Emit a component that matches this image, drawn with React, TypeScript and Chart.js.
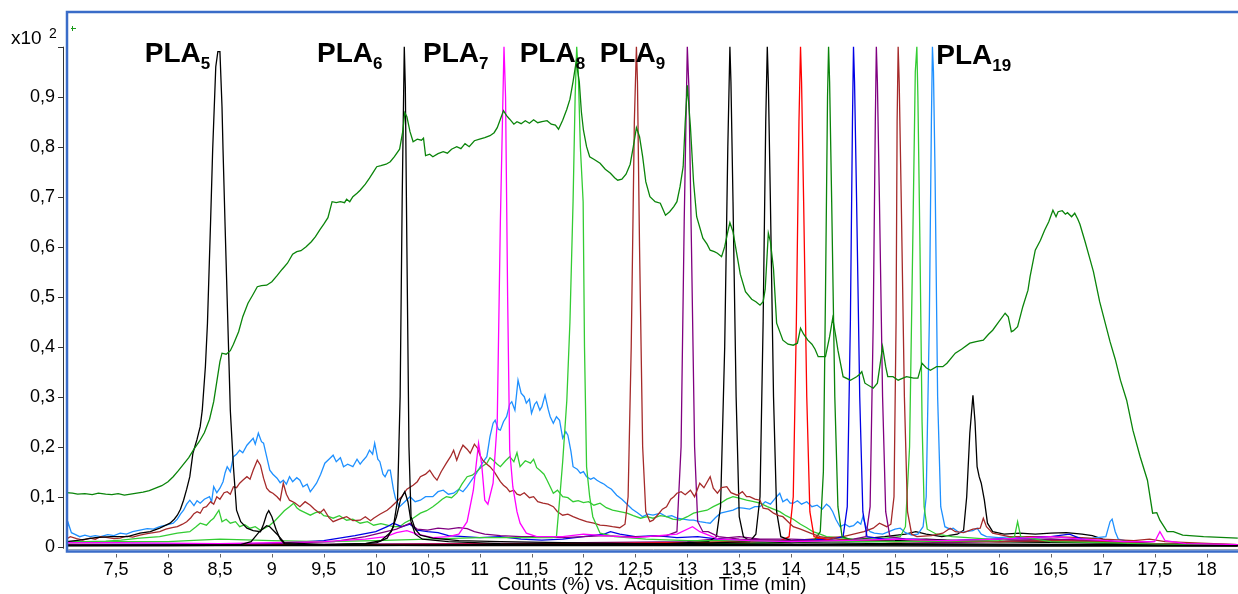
import React, { useEffect, useRef } from "react";
import { Chart, registerables } from "chart.js";

Chart.register(...registerables);

type Pt = [number, number];

const FONT = '"Liberation Sans", Arial, Helvetica, sans-serif';

// axis ticks
const xTicks = [7.5, 8, 8.5, 9, 9.5, 10, 10.5, 11, 11.5, 12, 12.5, 13, 13.5, 14, 14.5, 15, 15.5, 16, 16.5, 17, 17.5, 18];
const xTickLabels = ["7,5", "8", "8,5", "9", "9,5", "10", "10,5", "11", "11,5", "12", "12,5", "13", "13,5", "14", "14,5", "15", "15,5", "16", "16,5", "17", "17,5", "18"];
const yTicks = [0, 0.1, 0.2, 0.3, 0.4, 0.5, 0.6, 0.7, 0.8, 0.9, 1.0];
const yTickLabels = ["0", "0,1", "0,2", "0,3", "0,4", "0,5", "0,6", "0,7", "0,8", "0,9", ""];
const xRange = [7.018, 18.302];
const yRange = [-0.0086, 1.0694];

// peak labels
const labelTimes = [7.776, 9.435, 10.455, 11.386, 12.156, 15.397];
const labelLevels = [0.969, 0.969, 0.969, 0.969, 0.969, 0.966];
const labelSubs = ["5", "6", "7", "8", "9", "19"];

// dark green total trace
const ticTrace: Pt[] = [[7.02,0.108],[7.08,0.107],[7.13,0.105],[7.2,0.106],[7.27,0.104],[7.33,0.107],[7.4,0.105],[7.46,0.104],[7.52,0.106],[7.58,0.103],[7.64,0.105],[7.7,0.107],[7.76,0.109],[7.82,0.112],[7.88,0.117],[7.94,0.122],[8.0,0.13],[8.05,0.14],[8.1,0.152],[8.15,0.165],[8.2,0.178],[8.25,0.195],[8.3,0.21],[8.35,0.228],[8.4,0.255],[8.44,0.29],[8.47,0.33],[8.5,0.37],[8.52,0.387],[8.56,0.385],[8.6,0.392],[8.63,0.405],[8.68,0.43],[8.72,0.46],[8.77,0.487],[8.82,0.505],[8.86,0.52],[8.9,0.522],[8.95,0.523],[9.0,0.53],[9.05,0.542],[9.1,0.555],[9.15,0.567],[9.2,0.585],[9.24,0.59],[9.28,0.592],[9.33,0.6],[9.38,0.61],[9.42,0.62],[9.46,0.633],[9.5,0.645],[9.54,0.658],[9.58,0.69],[9.62,0.688],[9.66,0.69],[9.7,0.688],[9.72,0.695],[9.75,0.69],[9.78,0.7],[9.82,0.707],[9.85,0.713],[9.9,0.725],[9.94,0.737],[9.98,0.75],[10.01,0.76],[10.05,0.762],[10.1,0.765],[10.14,0.77],[10.18,0.78],[10.23,0.795],[10.26,0.83],[10.28,0.868],[10.3,0.86],[10.33,0.83],[10.36,0.81],[10.4,0.815],[10.44,0.813],[10.46,0.817],[10.48,0.782],[10.52,0.785],[10.55,0.78],[10.6,0.786],[10.65,0.79],[10.69,0.787],[10.73,0.795],[10.78,0.8],[10.82,0.796],[10.86,0.806],[10.9,0.8],[10.95,0.812],[11.0,0.815],[11.05,0.818],[11.1,0.822],[11.14,0.828],[11.17,0.838],[11.2,0.855],[11.23,0.872],[11.26,0.862],[11.29,0.855],[11.33,0.845],[11.36,0.85],[11.4,0.846],[11.44,0.852],[11.48,0.847],[11.52,0.854],[11.56,0.848],[11.6,0.85],[11.65,0.852],[11.69,0.845],[11.73,0.843],[11.76,0.835],[11.8,0.853],[11.84,0.875],[11.87,0.895],[11.9,0.93],[11.93,0.97],[11.96,0.93],[11.98,0.87],[12.0,0.833],[12.03,0.8],[12.06,0.78],[12.1,0.775],[12.16,0.767],[12.21,0.755],[12.26,0.747],[12.3,0.738],[12.33,0.733],[12.37,0.735],[12.41,0.745],[12.45,0.765],[12.48,0.8],[12.51,0.838],[12.54,0.82],[12.57,0.78],[12.6,0.73],[12.64,0.7],[12.69,0.69],[12.74,0.687],[12.79,0.663],[12.83,0.67],[12.87,0.68],[12.9,0.69],[12.93,0.72],[12.96,0.76],[12.98,0.85],[13.0,0.923],[13.03,0.84],[13.06,0.73],[13.09,0.66],[13.15,0.617],[13.19,0.605],[13.22,0.593],[13.26,0.59],[13.29,0.587],[13.33,0.58],[13.36,0.6],[13.39,0.63],[13.41,0.648],[13.44,0.63],[13.47,0.593],[13.51,0.545],[13.56,0.51],[13.62,0.495],[13.66,0.49],[13.7,0.483],[13.73,0.49],[13.75,0.515],[13.78,0.627],[13.8,0.61],[13.83,0.555],[13.86,0.447],[13.92,0.413],[13.97,0.405],[14.02,0.403],[14.06,0.407],[14.09,0.437],[14.12,0.425],[14.16,0.413],[14.2,0.405],[14.23,0.395],[14.26,0.38],[14.33,0.38],[14.37,0.42],[14.4,0.457],[14.43,0.42],[14.45,0.393],[14.5,0.34],[14.57,0.333],[14.63,0.34],[14.66,0.345],[14.68,0.35],[14.71,0.327],[14.79,0.317],[14.83,0.327],[14.86,0.37],[14.88,0.4],[14.91,0.36],[14.93,0.34],[14.98,0.34],[15.03,0.333],[15.11,0.34],[15.18,0.337],[15.22,0.337],[15.26,0.367],[15.3,0.358],[15.34,0.353],[15.4,0.36],[15.46,0.36],[15.5,0.367],[15.58,0.387],[15.64,0.395],[15.72,0.407],[15.78,0.41],[15.85,0.413],[15.9,0.425],[15.94,0.433],[16.0,0.45],[16.06,0.467],[16.09,0.46],[16.12,0.43],[16.14,0.432],[16.18,0.44],[16.23,0.48],[16.28,0.513],[16.3,0.54],[16.35,0.593],[16.4,0.613],[16.44,0.633],[16.48,0.65],[16.52,0.673],[16.55,0.66],[16.57,0.67],[16.61,0.672],[16.64,0.665],[16.66,0.668],[16.7,0.66],[16.73,0.667],[16.76,0.655],[16.78,0.645],[16.83,0.61],[16.87,0.58],[16.91,0.55],[16.97,0.49],[17.02,0.45],[17.07,0.41],[17.12,0.375],[17.17,0.333],[17.23,0.293],[17.29,0.233],[17.36,0.18],[17.43,0.133],[17.48,0.067],[17.52,0.068],[17.55,0.053],[17.62,0.03],[17.68,0.03],[17.77,0.023],[17.97,0.02],[18.3,0.017]];

// PLA5 (black, broad)
const pla5: Pt[] = [[7.02,0.01],[7.15,0.013],[7.3,0.018],[7.45,0.02],[7.61,0.02],[7.73,0.027],[7.83,0.03],[7.92,0.037],[8.02,0.047],[8.06,0.055],[8.09,0.063],[8.12,0.075],[8.15,0.093],[8.18,0.115],[8.21,0.14],[8.24,0.187],[8.28,0.215],[8.31,0.24],[8.33,0.273],[8.36,0.36],[8.38,0.447],[8.41,0.65],[8.43,0.793],[8.46,0.96],[8.48,0.99],[8.5,0.99],[8.52,0.88],[8.53,0.793],[8.55,0.64],[8.57,0.493],[8.6,0.273],[8.63,0.16],[8.66,0.073],[8.7,0.05],[8.76,0.037],[8.82,0.032],[8.89,0.03],[8.92,0.045],[8.95,0.065],[8.97,0.072],[9.0,0.06],[9.04,0.035],[9.08,0.015],[9.12,0.006],[9.3,0.004],[9.6,0.004],[10.0,0.003],[10.5,0.002],[11.5,0.002],[12.5,0.002],[14,0.002],[16,0.001],[18.3,0.001]];

// PLA6 (black)
const pla6: Pt[] = [[7.02,0.002],[8.0,0.002],[9.0,0.003],[9.6,0.004],[9.9,0.006],[10.01,0.008],[10.11,0.017],[10.17,0.04],[10.21,0.093],[10.235,0.3],[10.255,0.7],[10.275,1.0],[10.285,0.92],[10.3,0.6],[10.32,0.2],[10.34,0.06],[10.38,0.035],[10.43,0.023],[10.55,0.017],[10.8,0.012],[11.2,0.01],[11.8,0.008],[12.5,0.006],[13.5,0.005],[15,0.004],[18.3,0.002]];

// small black trace
const blackMinor: Pt[] = [[7.02,0.003],[8.7,0.004],[8.8,0.01],[8.88,0.03],[8.95,0.042],[8.98,0.04],[9.05,0.025],[9.12,0.008],[9.5,0.004],[9.9,0.006],[10.05,0.012],[10.15,0.03],[10.2,0.06],[10.24,0.095],[10.28,0.11],[10.31,0.09],[10.34,0.05],[10.38,0.025],[10.45,0.015],[10.7,0.01],[11.2,0.006],[12,0.005],[13,0.004],[14,0.004],[16,0.003],[18.3,0.002]];

// PLA7 (magenta)
const pla7: Pt[] = [[7.02,0.008],[7.5,0.008],[8.5,0.006],[9.0,0.008],[9.5,0.01],[9.9,0.015],[10.1,0.02],[10.2,0.028],[10.3,0.032],[10.4,0.025],[10.55,0.018],[10.7,0.02],[10.8,0.025],[10.88,0.05],[10.94,0.113],[10.99,0.207],[11.02,0.165],[11.05,0.093],[11.08,0.085],[11.13,0.127],[11.17,0.25],[11.2,0.65],[11.235,1.0],[11.25,0.9],[11.27,0.5],[11.29,0.193],[11.32,0.12],[11.36,0.07],[11.39,0.047],[11.45,0.027],[11.55,0.02],[11.8,0.02],[12.0,0.025],[12.2,0.022],[12.5,0.018],[12.9,0.025],[13.05,0.04],[13.12,0.03],[13.3,0.015],[13.6,0.012],[14,0.01],[14.5,0.012],[15,0.015],[15.5,0.012],[16,0.015],[16.5,0.02],[16.8,0.015],[17.2,0.01],[17.5,0.01],[17.55,0.03],[17.6,0.012],[17.8,0.006],[18.3,0.004]];

// PLA8 (lime green)
const pla8: Pt[] = [[7.02,0.008],[7.5,0.01],[8.0,0.01],[8.5,0.015],[9,0.012],[9.5,0.01],[10,0.012],[10.5,0.015],[11,0.018],[11.5,0.018],[11.7,0.018],[11.74,0.02],[11.77,0.093],[11.8,0.17],[11.84,0.293],[11.87,0.45],[11.9,0.69],[11.92,0.9],[11.935,1.0],[11.95,0.95],[11.97,0.8],[11.997,0.69],[12.01,0.4],[12.03,0.16],[12.06,0.1],[12.09,0.06],[12.16,0.027],[12.3,0.02],[12.6,0.015],[13,0.012],[13.5,0.012],[14,0.01],[15,0.01],[16,0.012],[16.15,0.02],[16.18,0.05],[16.21,0.02],[16.5,0.01],[17,0.008],[17.5,0.005],[18.3,0.003]];

// PLA9 (brown) with broad background
const pla9: Pt[] = [[7.02,0.015],[7.06,0.02],[7.12,0.016],[7.18,0.013],[7.25,0.017],[7.3,0.015],[7.35,0.02],[7.42,0.018],[7.48,0.016],[7.54,0.017],[7.6,0.021],[7.66,0.019],[7.73,0.023],[7.8,0.026],[7.86,0.028],[7.92,0.03],[7.98,0.035],[8.04,0.038],[8.09,0.04],[8.14,0.045],[8.18,0.05],[8.22,0.058],[8.25,0.066],[8.28,0.07],[8.31,0.067],[8.34,0.078],[8.37,0.08],[8.41,0.09],[8.44,0.085],[8.47,0.1],[8.5,0.095],[8.54,0.108],[8.57,0.11],[8.6,0.105],[8.63,0.12],[8.66,0.118],[8.69,0.127],[8.72,0.133],[8.76,0.14],[8.79,0.135],[8.82,0.153],[8.86,0.173],[8.89,0.163],[8.92,0.137],[8.95,0.117],[8.98,0.11],[9.01,0.107],[9.05,0.1],[9.08,0.093],[9.11,0.127],[9.14,0.105],[9.17,0.093],[9.22,0.088],[9.27,0.08],[9.32,0.09],[9.37,0.083],[9.41,0.075],[9.46,0.067],[9.5,0.075],[9.55,0.058],[9.59,0.05],[9.65,0.055],[9.72,0.06],[9.78,0.052],[9.85,0.053],[9.9,0.06],[9.95,0.052],[9.98,0.057],[10.04,0.065],[10.11,0.073],[10.15,0.08],[10.2,0.09],[10.25,0.1],[10.3,0.115],[10.36,0.123],[10.4,0.13],[10.43,0.14],[10.48,0.145],[10.52,0.153],[10.56,0.14],[10.59,0.133],[10.63,0.15],[10.68,0.167],[10.72,0.18],[10.75,0.193],[10.78,0.173],[10.81,0.19],[10.84,0.203],[10.88,0.195],[10.91,0.187],[10.95,0.205],[10.98,0.197],[11.01,0.18],[11.03,0.173],[11.07,0.165],[11.1,0.16],[11.14,0.15],[11.17,0.14],[11.2,0.13],[11.23,0.123],[11.26,0.118],[11.29,0.11],[11.33,0.113],[11.36,0.105],[11.39,0.103],[11.43,0.108],[11.48,0.098],[11.52,0.1],[11.56,0.09],[11.61,0.087],[11.66,0.085],[11.71,0.08],[11.75,0.07],[11.8,0.063],[11.85,0.065],[11.9,0.06],[11.96,0.055],[12.03,0.05],[12.1,0.047],[12.16,0.043],[12.22,0.042],[12.28,0.04],[12.35,0.038],[12.4,0.045],[12.43,0.1],[12.46,0.4],[12.49,0.85],[12.51,1.0],[12.52,0.93],[12.54,0.6],[12.57,0.2],[12.6,0.07],[12.64,0.05],[12.67,0.053],[12.72,0.065],[12.76,0.075],[12.8,0.08],[12.84,0.095],[12.87,0.1],[12.9,0.107],[12.94,0.11],[12.98,0.104],[13.03,0.113],[13.07,0.1],[13.12,0.127],[13.16,0.118],[13.22,0.14],[13.25,0.117],[13.29,0.107],[13.33,0.118],[13.38,0.12],[13.42,0.108],[13.48,0.103],[13.53,0.11],[13.57,0.1],[13.6,0.1],[13.65,0.095],[13.7,0.093],[13.73,0.077],[13.78,0.075],[13.83,0.067],[13.88,0.062],[13.92,0.06],[13.97,0.05],[14.02,0.04],[14.09,0.035],[14.15,0.03],[14.21,0.025],[14.28,0.02],[14.4,0.016],[14.6,0.012],[15,0.01],[15.5,0.01],[16,0.01],[16.5,0.012],[17,0.01],[17.5,0.006],[18.3,0.004]];

// PLA10 (purple)
const pla10: Pt[] = [[7.02,0.005],[8,0.004],[9,0.006],[9.6,0.01],[9.9,0.02],[10.1,0.03],[10.2,0.035],[10.33,0.047],[10.4,0.035],[10.5,0.033],[10.6,0.037],[10.7,0.035],[10.8,0.038],[10.88,0.036],[10.95,0.03],[11.05,0.025],[11.2,0.022],[11.4,0.02],[11.6,0.02],[11.8,0.018],[12.0,0.02],[12.2,0.022],[12.4,0.02],[12.6,0.02],[12.8,0.022],[12.9,0.03],[12.94,0.2],[12.97,0.65],[13.0,1.0],[13.015,0.92],[13.04,0.6],[13.07,0.2],[13.1,0.05],[13.15,0.03],[13.2,0.03],[13.3,0.02],[13.5,0.015],[14,0.012],[14.5,0.012],[15,0.01],[15.5,0.008],[16,0.01],[16.5,0.015],[17,0.012],[17.5,0.006],[18.3,0.004]];

// PLA11 (black)
const pla11: Pt[] = [[7.02,0.002],[10,0.003],[11,0.004],[12,0.005],[12.8,0.006],[13.2,0.01],[13.28,0.02],[13.32,0.08],[13.36,0.4],[13.39,0.8],[13.41,1.0],[13.42,0.93],[13.44,0.69],[13.47,0.3],[13.5,0.06],[13.54,0.02],[13.6,0.012],[14,0.008],[15,0.006],[16,0.005],[18.3,0.003]];

// PLA12 (black)
const pla12: Pt[] = [[7.02,0.002],[10,0.002],[12,0.004],[13,0.006],[13.6,0.01],[13.66,0.025],[13.7,0.1],[13.73,0.45],[13.755,0.85],[13.77,1.0],[13.78,0.93],[13.8,0.69],[13.83,0.3],[13.86,0.07],[13.9,0.02],[14,0.012],[14.5,0.01],[15,0.012],[15.3,0.015],[15.6,0.012],[16,0.01],[18.3,0.003]];

// PLA13 (red)
const pla13: Pt[] = [[7.02,0.003],[9,0.004],[10,0.004],[11,0.005],[12,0.006],[13,0.008],[13.6,0.01],[13.9,0.012],[13.98,0.02],[14.02,0.1],[14.05,0.45],[14.075,0.85],[14.09,1.0],[14.1,0.93],[14.12,0.69],[14.15,0.3],[14.18,0.07],[14.22,0.02],[14.4,0.012],[15,0.01],[15.5,0.012],[16,0.01],[16.5,0.012],[17,0.01],[17.5,0.005],[18.3,0.002]];

// PLA14 (green)
const pla14: Pt[] = [[7.02,0.003],[9,0.003],[11,0.004],[13,0.005],[14,0.008],[14.22,0.012],[14.28,0.03],[14.31,0.15],[14.33,0.5],[14.35,0.9],[14.36,1.0],[14.37,0.93],[14.39,0.69],[14.42,0.3],[14.45,0.08],[14.49,0.02],[14.6,0.012],[15,0.01],[15.5,0.012],[16,0.01],[17,0.008],[18.3,0.003]];

// PLA15 (blue)
const pla15: Pt[] = [[7.02,0.004],[8,0.005],[9,0.006],[9.5,0.012],[9.8,0.022],[10.0,0.03],[10.11,0.04],[10.17,0.047],[10.25,0.04],[10.33,0.045],[10.4,0.033],[10.5,0.03],[10.6,0.028],[10.7,0.022],[10.85,0.02],[11.0,0.018],[11.2,0.02],[11.4,0.015],[11.6,0.013],[11.8,0.015],[12.0,0.02],[12.2,0.025],[12.26,0.03],[12.35,0.025],[12.5,0.02],[12.7,0.022],[12.9,0.018],[13.1,0.02],[13.3,0.015],[13.6,0.012],[14.0,0.012],[14.4,0.015],[14.5,0.02],[14.54,0.08],[14.57,0.45],[14.59,0.85],[14.6,1.0],[14.61,0.93],[14.63,0.69],[14.66,0.3],[14.69,0.07],[14.73,0.02],[14.9,0.015],[15.2,0.015],[15.5,0.012],[16,0.015],[16.5,0.02],[16.68,0.025],[16.8,0.015],[17,0.01],[17.5,0.005],[18.3,0.003]];

// PLA16 (purple)
const pla16: Pt[] = [[7.02,0.003],[9,0.004],[11,0.006],[12,0.008],[13,0.01],[13.5,0.02],[13.7,0.015],[14.0,0.015],[14.4,0.012],[14.6,0.015],[14.72,0.02],[14.76,0.08],[14.79,0.45],[14.81,0.85],[14.82,1.0],[14.83,0.93],[14.85,0.69],[14.88,0.3],[14.91,0.07],[14.95,0.02],[15.1,0.015],[15.5,0.012],[16,0.015],[16.5,0.015],[17,0.01],[17.5,0.005],[18.3,0.003]];

// PLA17 (brown)
const pla17: Pt[] = [[7.02,0.003],[9,0.004],[11,0.005],[13,0.008],[14,0.012],[14.5,0.02],[14.7,0.03],[14.79,0.037],[14.85,0.047],[14.92,0.04],[14.96,0.045],[14.99,0.1],[15.01,0.45],[15.02,0.85],[15.03,1.0],[15.04,0.93],[15.06,0.69],[15.09,0.3],[15.12,0.07],[15.16,0.025],[15.21,0.02],[15.35,0.022],[15.46,0.027],[15.53,0.037],[15.58,0.03],[15.66,0.028],[15.75,0.035],[15.82,0.037],[15.85,0.057],[15.88,0.04],[15.94,0.027],[16.1,0.02],[16.5,0.02],[16.8,0.018],[17.0,0.015],[17.3,0.012],[17.45,0.015],[17.6,0.01],[18.3,0.004]];

// PLA18 (lime green) with broad background
const pla18: Pt[] = [[7.02,0.01],[7.2,0.01],[7.4,0.011],[7.55,0.013],[7.73,0.017],[7.92,0.02],[8.09,0.027],[8.21,0.03],[8.27,0.04],[8.31,0.047],[8.37,0.043],[8.41,0.052],[8.44,0.057],[8.49,0.073],[8.52,0.05],[8.56,0.055],[8.6,0.047],[8.65,0.05],[8.69,0.04],[8.74,0.044],[8.79,0.037],[8.84,0.04],[8.89,0.033],[8.94,0.038],[8.98,0.043],[9.03,0.052],[9.08,0.063],[9.12,0.072],[9.17,0.08],[9.21,0.087],[9.24,0.078],[9.27,0.073],[9.32,0.068],[9.37,0.063],[9.42,0.068],[9.46,0.07],[9.5,0.062],[9.55,0.06],[9.59,0.057],[9.65,0.062],[9.72,0.053],[9.78,0.055],[9.85,0.047],[9.92,0.05],[9.98,0.043],[10.05,0.046],[10.11,0.043],[10.17,0.04],[10.23,0.04],[10.28,0.048],[10.33,0.053],[10.38,0.06],[10.43,0.067],[10.49,0.072],[10.55,0.08],[10.6,0.088],[10.64,0.095],[10.68,0.1],[10.73,0.098],[10.78,0.107],[10.83,0.125],[10.88,0.14],[10.93,0.143],[10.97,0.15],[11.02,0.16],[11.07,0.167],[11.1,0.178],[11.13,0.173],[11.17,0.165],[11.2,0.16],[11.25,0.172],[11.29,0.18],[11.33,0.17],[11.36,0.188],[11.39,0.16],[11.44,0.172],[11.49,0.167],[11.52,0.175],[11.55,0.158],[11.58,0.153],[11.62,0.145],[11.65,0.133],[11.68,0.12],[11.71,0.107],[11.75,0.113],[11.8,0.1],[11.85,0.098],[11.9,0.09],[11.95,0.092],[12.0,0.088],[12.05,0.09],[12.1,0.083],[12.16,0.087],[12.22,0.078],[12.28,0.073],[12.35,0.07],[12.42,0.067],[12.48,0.062],[12.55,0.057],[12.61,0.06],[12.67,0.057],[12.74,0.062],[12.8,0.06],[12.86,0.055],[12.93,0.053],[13.0,0.06],[13.06,0.067],[13.12,0.07],[13.19,0.073],[13.25,0.08],[13.32,0.087],[13.38,0.095],[13.44,0.1],[13.5,0.097],[13.57,0.093],[13.64,0.09],[13.7,0.087],[13.77,0.08],[13.83,0.075],[13.89,0.07],[13.95,0.062],[14.02,0.055],[14.09,0.045],[14.15,0.038],[14.21,0.03],[14.28,0.025],[14.34,0.02],[14.45,0.018],[14.6,0.015],[14.8,0.015],[14.95,0.018],[15.05,0.02],[15.1,0.04],[15.14,0.2],[15.17,0.6],[15.195,0.95],[15.21,1.0],[15.22,0.9],[15.24,0.6],[15.26,0.25],[15.28,0.08],[15.31,0.035],[15.4,0.025],[15.55,0.02],[15.7,0.018],[15.9,0.015],[16.2,0.012],[16.6,0.01],[17,0.008],[17.4,0.005],[18.3,0.003]];

// PLA19 (dodger blue) with broad background
const pla19: Pt[] = [[7.02,0.03],[7.04,0.047],[7.07,0.028],[7.1,0.025],[7.15,0.02],[7.2,0.023],[7.25,0.02],[7.3,0.022],[7.35,0.02],[7.42,0.024],[7.48,0.022],[7.54,0.027],[7.6,0.025],[7.66,0.03],[7.73,0.033],[7.8,0.036],[7.86,0.035],[7.92,0.04],[7.98,0.043],[8.05,0.047],[8.09,0.055],[8.12,0.065],[8.15,0.073],[8.18,0.085],[8.21,0.093],[8.25,0.082],[8.28,0.092],[8.31,0.087],[8.35,0.095],[8.4,0.1],[8.42,0.09],[8.44,0.12],[8.47,0.108],[8.5,0.117],[8.53,0.13],[8.55,0.148],[8.57,0.16],[8.6,0.15],[8.63,0.18],[8.66,0.185],[8.69,0.193],[8.72,0.188],[8.76,0.203],[8.79,0.21],[8.82,0.217],[8.84,0.205],[8.87,0.227],[8.9,0.21],[8.92,0.207],[8.95,0.18],[8.98,0.153],[9.01,0.145],[9.05,0.137],[9.08,0.128],[9.11,0.133],[9.14,0.125],[9.17,0.14],[9.2,0.13],[9.24,0.138],[9.27,0.133],[9.3,0.12],[9.34,0.125],[9.37,0.11],[9.4,0.118],[9.43,0.127],[9.47,0.145],[9.51,0.167],[9.55,0.175],[9.59,0.183],[9.62,0.17],[9.66,0.178],[9.69,0.16],[9.73,0.165],[9.78,0.16],[9.82,0.175],[9.85,0.165],[9.88,0.173],[9.91,0.18],[9.94,0.193],[9.97,0.185],[9.99,0.207],[10.02,0.175],[10.04,0.17],[10.07,0.145],[10.09,0.14],[10.12,0.153],[10.14,0.153],[10.17,0.115],[10.19,0.097],[10.23,0.08],[10.28,0.09],[10.33,0.1],[10.38,0.09],[10.43,0.093],[10.48,0.1],[10.55,0.1],[10.6,0.11],[10.65,0.113],[10.7,0.105],[10.75,0.107],[10.8,0.115],[10.84,0.11],[10.88,0.12],[10.93,0.135],[10.97,0.147],[11.02,0.165],[11.07,0.18],[11.1,0.22],[11.13,0.247],[11.15,0.253],[11.18,0.235],[11.2,0.233],[11.23,0.25],[11.26,0.26],[11.29,0.285],[11.31,0.29],[11.34,0.273],[11.37,0.333],[11.4,0.307],[11.43,0.3],[11.45,0.287],[11.48,0.295],[11.5,0.267],[11.53,0.285],[11.55,0.29],[11.58,0.273],[11.6,0.28],[11.63,0.303],[11.66,0.275],[11.68,0.26],[11.71,0.247],[11.74,0.26],[11.77,0.253],[11.8,0.217],[11.83,0.23],[11.85,0.223],[11.88,0.19],[11.9,0.16],[11.94,0.155],[11.97,0.147],[12.0,0.15],[12.03,0.14],[12.07,0.135],[12.1,0.138],[12.13,0.133],[12.17,0.128],[12.2,0.125],[12.23,0.12],[12.27,0.115],[12.32,0.103],[12.37,0.095],[12.42,0.085],[12.47,0.075],[12.52,0.068],[12.57,0.06],[12.62,0.065],[12.67,0.063],[12.74,0.067],[12.8,0.06],[12.85,0.062],[12.9,0.057],[12.96,0.055],[13.02,0.053],[13.06,0.053],[13.12,0.05],[13.18,0.048],[13.22,0.047],[13.27,0.058],[13.32,0.067],[13.38,0.07],[13.44,0.073],[13.49,0.078],[13.54,0.077],[13.6,0.075],[13.65,0.08],[13.7,0.08],[13.75,0.09],[13.8,0.085],[13.84,0.095],[13.86,0.1],[13.89,0.107],[13.92,0.09],[13.96,0.095],[13.99,0.087],[14.02,0.087],[14.06,0.092],[14.1,0.085],[14.15,0.09],[14.2,0.08],[14.25,0.083],[14.3,0.075],[14.34,0.085],[14.37,0.08],[14.4,0.07],[14.43,0.055],[14.47,0.04],[14.52,0.045],[14.56,0.04],[14.6,0.042],[14.64,0.05],[14.67,0.045],[14.69,0.06],[14.72,0.04],[14.76,0.03],[14.8,0.027],[14.88,0.025],[14.94,0.03],[15.0,0.035],[15.05,0.037],[15.1,0.028],[15.16,0.023],[15.22,0.025],[15.27,0.04],[15.3,0.1],[15.33,0.45],[15.35,0.85],[15.36,1.0],[15.37,0.95],[15.385,0.75],[15.41,0.3],[15.44,0.08],[15.48,0.04],[15.53,0.035],[15.56,0.037],[15.62,0.028],[15.68,0.03],[15.75,0.032],[15.79,0.037],[15.83,0.025],[15.88,0.02],[16.0,0.018],[16.14,0.02],[16.3,0.016],[16.5,0.013],[16.7,0.015],[16.9,0.017],[17.03,0.02],[17.07,0.05],[17.09,0.055],[17.12,0.03],[17.15,0.015],[17.3,0.008],[17.6,0.005],[18.3,0.003]];

// late black peak
const blackLate: Pt[] = [[7.02,0.003],[9,0.004],[11,0.005],[13,0.006],[14,0.008],[14.5,0.012],[14.9,0.02],[15.1,0.025],[15.2,0.03],[15.3,0.025],[15.45,0.02],[15.6,0.025],[15.66,0.033],[15.69,0.1],[15.72,0.227],[15.75,0.303],[15.77,0.25],[15.79,0.16],[15.81,0.14],[15.83,0.127],[15.86,0.093],[15.89,0.047],[15.94,0.03],[16.05,0.025],[16.2,0.027],[16.35,0.025],[16.5,0.027],[16.65,0.028],[16.8,0.025],[16.9,0.022],[17.0,0.015],[17.15,0.008],[17.3,0.005],[18.3,0.003]];

const traces: Pt[][] = [ticTrace, pla5, pla6, blackMinor, pla7, pla8, pla9, pla10, pla11, pla12, pla13, pla14, pla15, pla16, pla17, pla18, pla19, blackLate];
const traceColors = ["#0a840a", "#000000", "#000000", "#000000", "#ff00ff", "#33cc33", "#a52a2a", "#800080", "#000000", "#000000", "#ff0000", "#0a840a", "#0000e6", "#800080", "#a52a2a", "#33cc33", "#1e90ff", "#000000"];

const decorPlugin = {
  id: "decor",
  afterDraw(chart: any) {
    const { ctx, chartArea, scales } = chart;
    const xs = scales.x;
    const ys = scales.y;
    ctx.save();
    // y axis line and ticks
    const ax = Math.round(chartArea.left) - 3 + 0.5;
    ctx.strokeStyle = "#333";
    ctx.lineWidth = 1;
    ctx.beginPath();
    ctx.moveTo(ax, ys.getPixelForValue(yTicks[yTicks.length - 1]));
    ctx.lineTo(ax, ys.getPixelForValue(yTicks[0]) + 2);
    for (const v of yTicks) {
      const py = Math.round(ys.getPixelForValue(v)) + 0.5;
      ctx.moveTo(ax - 5.5, py);
      ctx.lineTo(ax, py);
    }
    ctx.stroke();
    // x tick marks
    ctx.strokeStyle = "#666";
    ctx.beginPath();
    for (const v of xTicks) {
      const px = Math.round(xs.getPixelForValue(v)) + 0.5;
      ctx.moveTo(px, chartArea.bottom + 3);
      ctx.lineTo(px, chartArea.bottom + 6.5);
    }
    ctx.stroke();
    // frame
    ctx.strokeStyle = "#3a6cc8";
    ctx.lineWidth = 2.5;
    ctx.beginPath();
    ctx.moveTo(chartArea.right + 3, chartArea.top);
    ctx.lineTo(chartArea.left + 1, chartArea.top);
    ctx.lineTo(chartArea.left + 1, chartArea.bottom + 0.5);
    ctx.lineTo(chartArea.right + 3, chartArea.bottom + 0.5);
    ctx.stroke();
    ctx.strokeStyle = "#9aa3b0";
    ctx.lineWidth = 1;
    ctx.beginPath();
    ctx.moveTo(chartArea.left + 2, chartArea.bottom - 1.5);
    ctx.lineTo(chartArea.right + 3, chartArea.bottom - 1.5);
    ctx.stroke();
    // small green marker
    ctx.strokeStyle = "#1a9a1a";
    ctx.lineWidth = 1;
    ctx.beginPath();
    ctx.moveTo(chartArea.left + 5, chartArea.top + 16.5);
    ctx.lineTo(chartArea.left + 10, chartArea.top + 16.5);
    ctx.moveTo(chartArea.left + 6.5, chartArea.top + 14);
    ctx.lineTo(chartArea.left + 6.5, chartArea.top + 19);
    ctx.stroke();
    // exponent label
    ctx.fillStyle = "#000";
    ctx.textBaseline = "alphabetic";
    ctx.textAlign = "left";
    ctx.font = `19px ${FONT}`;
    ctx.fillText("x10", 11, 43.5);
    ctx.font = `14px ${FONT}`;
    ctx.fillText("2", 49, 38);
    // peak labels
    labelTimes.forEach((t, i) => {
      const px = xs.getPixelForValue(t);
      const py = ys.getPixelForValue(labelLevels[i]);
      ctx.font = `bold 28px ${FONT}`;
      ctx.fillText("PLA", px, py);
      const w = ctx.measureText("PLA").width;
      ctx.font = `bold 17px ${FONT}`;
      ctx.fillText(labelSubs[i], px + w, py + 7);
    });
    ctx.restore();
  },
};

export default function App() {
  const ref = useRef<HTMLCanvasElement | null>(null);
  useEffect(() => {
    document.body.style.margin = "0";
    const canvas = ref.current;
    if (!canvas) return;
    const chart = new Chart(canvas, {
      type: "line",
      data: {
        datasets: traces.map((d, i) => ({
          data: d as any,
          borderColor: traceColors[i],
          backgroundColor: traceColors[i],
          borderWidth: 1.3,
          pointRadius: 0,
          pointHoverRadius: 0,
          tension: 0,
          fill: false,
        })),
      },
      options: {
        animation: false,
        responsive: false,
        devicePixelRatio: 1,
        layout: { padding: { top: 12, left: 0, right: 0, bottom: 0 } },
        plugins: { legend: { display: false }, tooltip: { enabled: false }, title: { display: false } },
        events: [],
        scales: {
          x: {
            type: "linear",
            min: xRange[0],
            max: xRange[1],
            afterBuildTicks: (s: any) => {
              s.ticks = xTicks.map((v) => ({ value: v }));
            },
            ticks: {
              autoSkip: false,
              maxRotation: 0,
              minRotation: 0,
              padding: 8,
              color: "#000",
              font: { family: FONT, size: 18 },
              callback: (_v: any, i: number) => xTickLabels[i],
            },
            grid: { display: false, drawTicks: false, tickLength: 0 },
            border: { display: false },
            title: {
              display: true,
              text: "Counts (%) vs. Acquisition Time (min)",
              color: "#000",
              font: { family: FONT, size: 18.5, lineHeight: 0.94 },
              padding: 0,
            },
            afterFit: (s: any) => {
              s.height = 43;
              s.paddingLeft = 0;
              s.paddingRight = 0;
            },
          },
          y: {
            type: "linear",
            min: yRange[0],
            max: yRange[1],
            afterBuildTicks: (s: any) => {
              s.ticks = yTicks.map((v) => ({ value: v }));
            },
            ticks: {
              autoSkip: false,
              padding: 11,
              color: "#000",
              font: { family: FONT, size: 18 },
              callback: (_v: any, i: number) => yTickLabels[i],
            },
            grid: { display: false, drawTicks: false, tickLength: 0 },
            border: { display: false },
            afterFit: (s: any) => {
              s.width = 66;
              s.paddingTop = 0;
              s.paddingBottom = 0;
            },
          },
        },
      } as any,
      plugins: [decorPlugin],
    });
    return () => chart.destroy();
  }, []);
  return (
    <div style={{ position: "fixed", left: 0, top: 0, width: 1238, height: 594, background: "#fff" }}>
      <canvas ref={ref} width={1238} height={594} style={{ display: "block", width: 1238, height: 594 }} />
    </div>
  );
}
